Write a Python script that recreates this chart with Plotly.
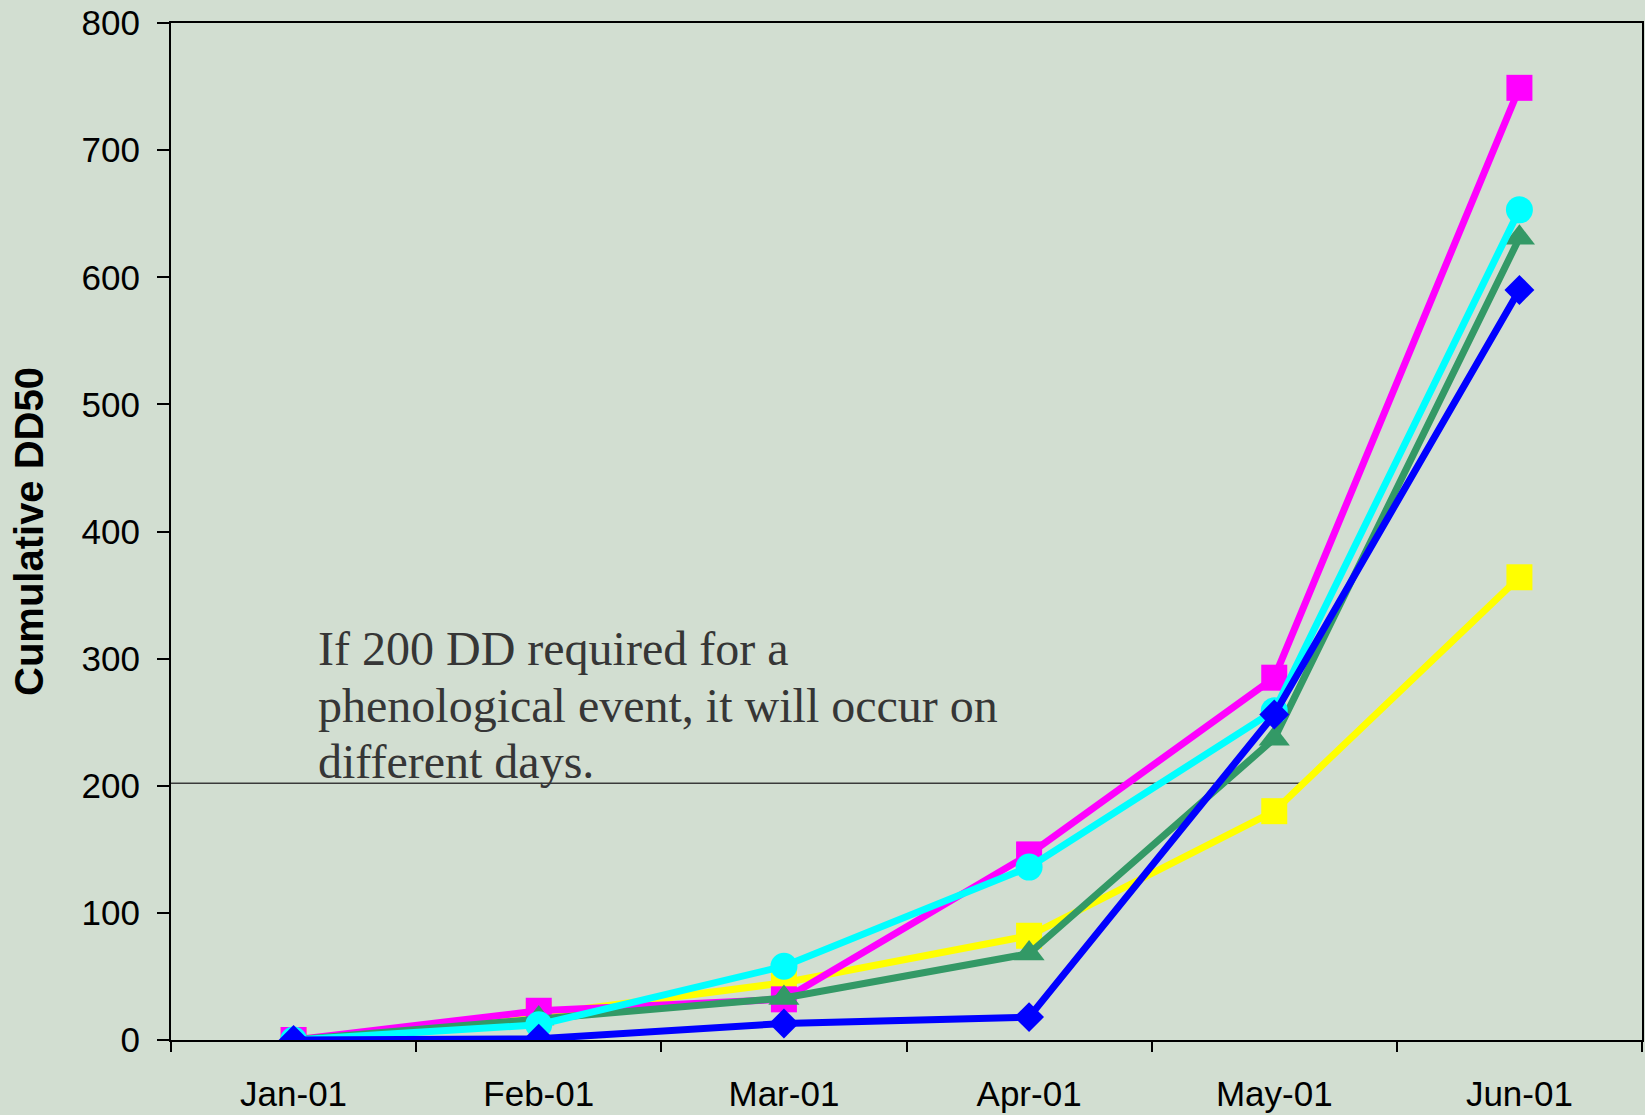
import plotly.graph_objects as go

months = ["Jan-01", "Feb-01", "Mar-01", "Apr-01", "May-01", "Jun-01"]

yellow_sq = [0, 20, 45, 82, 180, 364]
magenta_sq = [0, 23, 32, 146, 285, 749]
green_tri = [0, 17, 33, 68, 237, 631]
cyan_circ = [0, 12, 58, 136, 259, 653]
blue_dia = [0, 1, 13, 18, 256, 590]

threshold = 202
threshold_end = 4.12

note_lines = [
    "If 200 DD required for a",
    "phenological event, it will occur on",
    "different days.",
]

series = [
    (yellow_sq, "#FFFF00", "square", 26),
    (magenta_sq, "#FF00FF", "square", 26),
    (green_tri, "#339966", "triangle-up", 27),
    (cyan_circ, "#00FFFF", "circle", 27),
    (blue_dia, "#0000FF", "diamond", 23),
]

fig = go.Figure()
for vals, col, sym, sz in series:
    fig.add_trace(go.Scatter(
        x=months, y=vals, mode="lines+markers",
        line=dict(color=col, width=7),
        marker=dict(symbol=sym, size=sz, color=col, line=dict(width=0)),
        showlegend=False,
    ))

fig.add_shape(type="line", xref="x", yref="y", x0=-0.5, x1=threshold_end,
              y0=threshold, y1=threshold, line=dict(color="#3a3a3a", width=1.5),
              layer="below")

bg = "rgb(210,222,209)"
line_y = [308, 263.5, 219]
for txt, yy in zip(note_lines, line_y):
    fig.add_annotation(text=txt, xref="paper", yref="y", x=(316 - 171) / 1473, y=yy,
                       xanchor="left", yanchor="middle", showarrow=False,
                       font=dict(family="Liberation Serif", size=48, color="#363636"))

fig.update_layout(
    width=1645, height=1115,
    margin=dict(l=171, r=1, t=23, b=75),
    paper_bgcolor=bg, plot_bgcolor=bg,
    font=dict(family="Liberation Sans", color="#000000"),
)
fig.update_xaxes(
    type="category", range=[-0.5, 5.5], tickson="boundaries",
    ticks="outside", ticklen=10, tickwidth=1.5, tickcolor="#000",
    showline=True, linecolor="#000", linewidth=2, mirror=True,
    showgrid=False, zeroline=False,
    tickfont=dict(size=35, family="Liberation Sans", color="#000"),
    ticklabelstandoff=22,
)
fig.update_yaxes(
    range=[0, 800], dtick=100, tick0=0,
    ticks="outside", ticklen=12, tickwidth=1.5, tickcolor="#000",
    showline=True, linecolor="#000", linewidth=2, mirror=True,
    showgrid=False, zeroline=False,
    tickfont=dict(size=35, family="Liberation Sans", color="#000"),
    ticklabelstandoff=10,
    title=dict(text="<b>Cumulative DD50</b>", standoff=26,
               font=dict(size=40, family="Liberation Sans", color="#000")),
)

fig.write_html("out.html", config={"displayModeBar": False},
               post_script="document.body.style.margin='0';document.body.style.background='rgb(210,222,209)';")
